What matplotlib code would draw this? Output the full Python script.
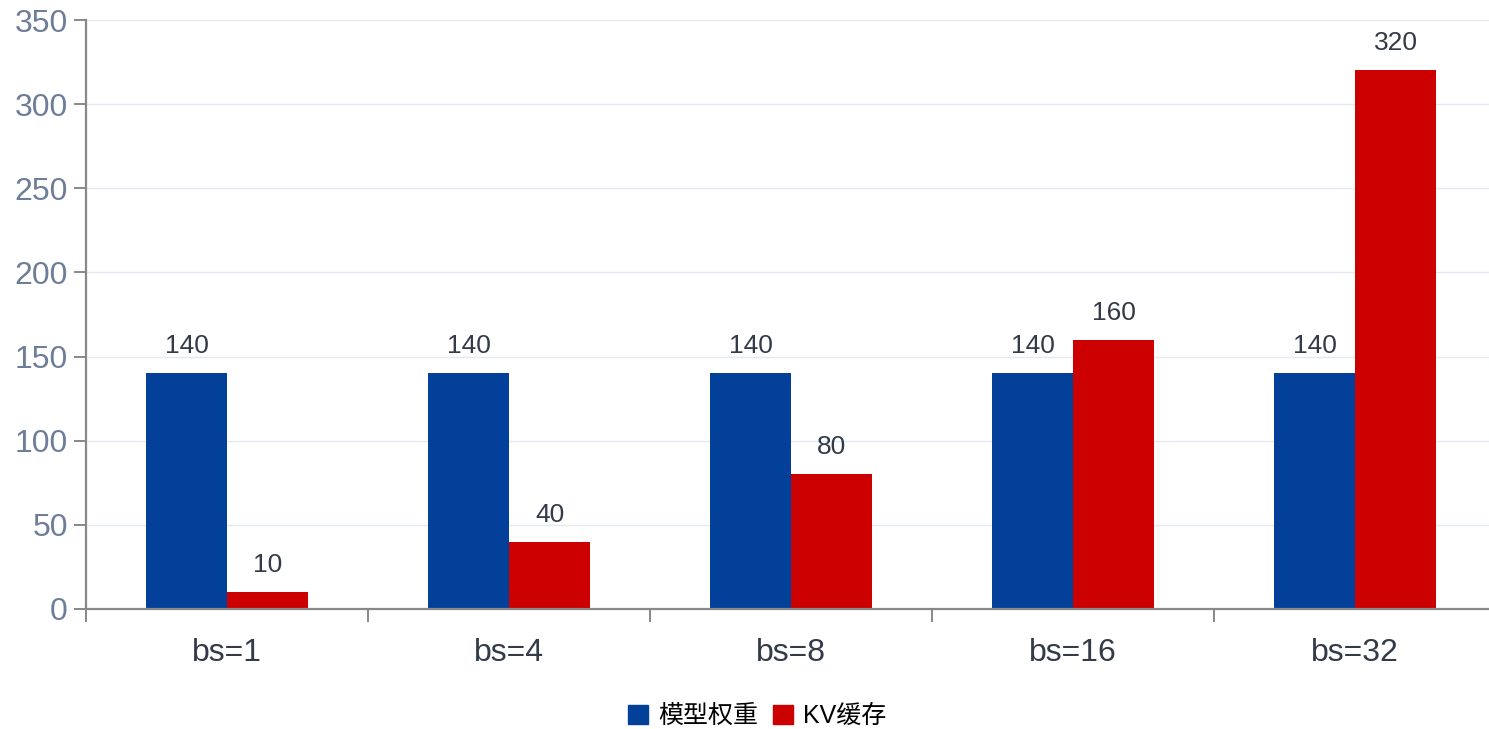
import matplotlib
matplotlib.use("Agg")
import matplotlib.pyplot as plt
import numpy as np
from matplotlib.patches import Patch

# memory usage per batch size
categories = ["bs=1", "bs=4", "bs=8", "bs=16", "bs=32"]
weights = [140, 140, 140, 140, 140]
kv_cache = [10, 40, 80, 160, 320]
series_names = ["模型权重", "KV缓存"]
y_ticks = [0, 50, 100, 150, 200, 250, 300, 350]

BLUE = "#03409a"
RED = "#cc0000"
AXIS = "#888888"
FONT = ["Liberation Sans", "Noto Sans CJK SC", "DejaVu Sans"]
plt.rcParams["font.family"] = FONT

fig = plt.figure(figsize=(14.89, 7.29), dpi=100)
ax = fig.add_axes([86 / 1489, 1 - 609 / 729, 1410 / 1489, 589 / 729])

x = np.arange(len(categories))
w = 81 / 282
b1 = ax.bar(x - w / 2, weights, w, color=BLUE, zorder=3)
b2 = ax.bar(x + w / 2, kv_cache, w, color=RED, zorder=3)

for bars, vals in ((b1, weights), (b2, kv_cache)):
    for rect, v in zip(bars, vals):
        ax.annotate(str(v), (rect.get_x() + rect.get_width() / 2, v),
                    xytext=(0, 15), textcoords="offset pixels",
                    ha="center", va="bottom", fontsize=19, color="#333a48")

ax.set_xlim(-0.5, len(categories) - 0.5)
ax.set_ylim(0, 350)
ax.set_yticks(y_ticks)
ax.tick_params(axis="y", length=9, width=1.4, color=AXIS, labelsize=23,
               labelcolor="#6e7e98", pad=4)

# band boundaries get the tick marks, centers get the labels
ax.set_xticks(np.arange(-0.5, len(categories) - 0.4, 1.0))
ax.set_xticklabels([])
ax.set_xticks(x, minor=True)
ax.set_xticklabels(categories, minor=True)
ax.tick_params(axis="x", which="major", length=9, width=1.4, color=AXIS)
ax.tick_params(axis="x", which="minor", length=0, labelsize=23,
               labelcolor="#333a48", pad=21)

ax.grid(axis="y", color="#e4e8f2", linewidth=1.0, zorder=0)
for s in ("top", "right"):
    ax.spines[s].set_visible(False)
for s in ("left", "bottom"):
    ax.spines[s].set_color(AXIS)
    ax.spines[s].set_linewidth(1.6)
ax.spines["bottom"].set_zorder(4)

handles = [Patch(color=BLUE), Patch(color=RED)]
fig.legend(handles, series_names, loc="center", bbox_to_anchor=(757 / 1489, 1 - 716 / 729),
           ncol=2, frameon=False, handlelength=0.8, handleheight=0.8,
           handletextpad=0.4, columnspacing=0.6, prop={"family": FONT, "size": 18})

fig.savefig("out.png", dpi=100, facecolor="white")
